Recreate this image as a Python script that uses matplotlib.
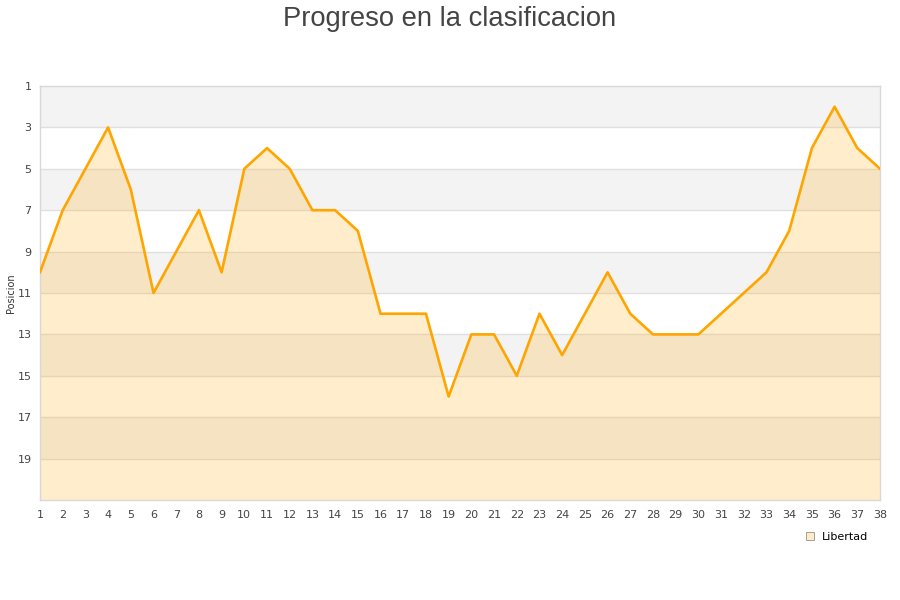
import matplotlib
matplotlib.use("Agg")
import matplotlib.pyplot as plt
from matplotlib.patches import Patch

# Jornadas and league position of Libertad
jornadas = list(range(1, 39))
posicion = [10, 7, 5, 3, 6, 11, 9, 7, 10, 5,
            4, 5, 7, 7, 8, 12, 12, 12, 16, 13,
            13, 15, 12, 14, 12, 10, 12, 13, 13, 13,
            12, 11, 10, 8, 4, 2, 4, 5]
y_ticks = [1, 3, 5, 7, 9, 11, 13, 15, 17, 19]
team = "Libertad"

orange = "#ffa500"
grid_col = "#e0e0e0"
band_col = "#f3f3f3"

fig = plt.figure(figsize=(9, 6), dpi=100)
ax = fig.add_axes([40 / 900, 100 / 600, 840 / 900, 414 / 600])

# alternating horizontal bands
for k in range(1, 21, 4):
    ax.axhspan(k, k + 2, color=band_col, lw=0, zorder=0)
for t in y_ticks[1:]:
    ax.axhline(t, color=grid_col, lw=1, zorder=1)

ax.fill_between(jornadas, posicion, 21, color=orange, alpha=0.2, lw=0, zorder=2)
ax.plot(jornadas, posicion, color=orange, lw=1.9, zorder=3)

ax.set_xlim(1, 38)
ax.set_ylim(21, 1)
ax.set_xticks(jornadas)
ax.set_yticks(y_ticks)
ax.tick_params(length=0, labelsize=8, colors="#444444", pad=6)
ax.tick_params(axis="x", pad=7)
for s in ax.spines.values():
    s.set_color("#d8d8d8")
    s.set_linewidth(1)

ax.set_ylabel("Posicion", fontsize=7, color="#333333", labelpad=1)

fig.text(0.5, 0.99, "Progreso en la clasificacion", ha="center", va="top",
         fontsize=19.7, color="#444444", family="Liberation Sans")

handle = Patch(facecolor="#feebcb", edgecolor="#9a8f80", linewidth=0.6)
fig.legend([handle], [team], loc="center left", bbox_to_anchor=(800 / 900, 1 - 537 / 600),
           frameon=False, fontsize=8, handlelength=0.8, handleheight=0.8,
           handletextpad=0.7, borderpad=0)

fig.savefig("out.png", dpi=100)
